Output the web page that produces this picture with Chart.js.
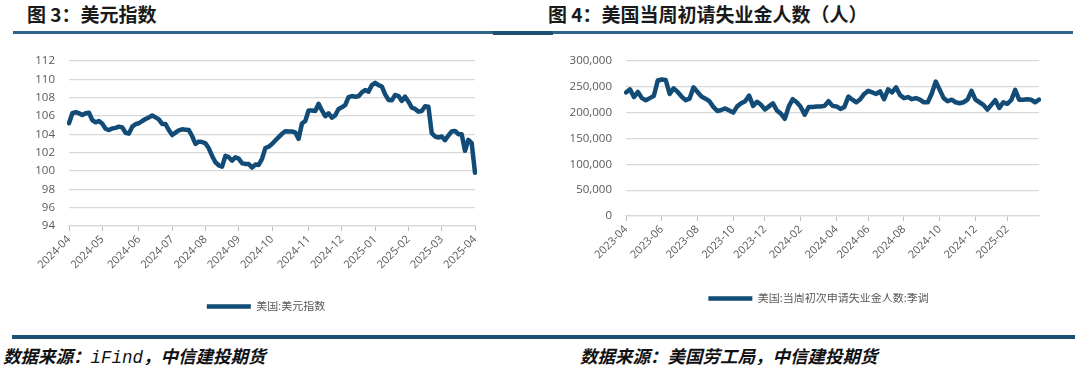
<!DOCTYPE html>
<html>
<head>
<meta charset="utf-8">
<script src="https://cdn.jsdelivr.net/npm/chart.js@4.4.1/dist/chart.umd.min.js"></script>
<style>
  body { margin: 0; background: #fff; }
  #page { position: relative; width: 1080px; height: 365px; overflow: hidden; background: #fff; }
  .title { position: absolute; top: 0; font: 700 19px "Noto Sans CJK SC", sans-serif; color: #1a1a1a; white-space: nowrap; }
  .source { position: absolute; top: 343px; font: italic 700 17.5px "Noto Sans CJK SC", sans-serif; color: #111; white-space: nowrap; }
  .source .mono { font-family: "Liberation Mono", "DejaVu Sans Mono", monospace; font-style: italic; font-weight: 400; }
  .rule { position: absolute; }
  canvas { position: absolute; top: 40px; }
</style>
</head>
<body>
<div id="page">
  <div class="title" style="left:27px">图 3：美元指数</div>
  <div class="title" style="left:548px">图 4：美国当周初请失业金人数（人）</div>
  <div class="rule" style="left:13px; top:31px; width:480px; height:3px; background:#2f6589"></div>
  <div class="rule" style="left:493px; top:31px; width:60px; height:4px; background:#1d4f73"></div>
  <div class="rule" style="left:553px; top:31px; width:520px; height:3px; background:#2f6589"></div>
  <div class="rule" style="left:12px; top:335px; width:1063px; height:4px; background:#1d4f73"></div>
  <canvas id="dxyChart" width="540" height="285" style="left:0"></canvas>
  <canvas id="claimsChart" width="540" height="285" style="left:540px"></canvas>
  <div class="source" style="left:3px">数据来源：<span class="mono">iFind</span>，中信建投期货</div>
  <div class="source" style="left:580px">数据来源：美国劳工局，中信建投期货</div>
</div>
<script>
// ---- data ----
// US dollar index, sampled every 3 days from 2024-04-01
const DXY_START = "2024-04-01";
const DXY_STEP_DAYS = 3;
const dxyValues = [
  105.2, 106.3, 106.4, 106.3, 106.1, 106.3, 106.35, 105.55, 105.3, 105.45,
  105.15, 104.6, 104.46, 104.64, 104.7, 104.83, 104.75, 104.17, 104.07, 104.83,
  105.1, 105.2, 105.45, 105.66, 105.84, 106.05, 105.84, 105.62, 105.12, 105.12,
  104.46, 103.92, 104.17, 104.42, 104.54, 104.5, 104.46, 103.81, 102.94, 103.2,
  103.16, 103.01, 102.47, 101.64, 100.95, 100.62, 100.48, 101.64, 101.5, 101.13,
  101.5, 101.35, 100.84, 100.77, 100.77, 100.37, 100.7, 100.66, 101.31, 102.5,
  102.65, 102.93, 103.32, 103.68, 104.05, 104.33, 104.3, 104.3, 104.2, 103.5,
  105.17, 105.45, 106.6, 106.6, 106.54, 107.33, 106.6, 105.97, 106.29, 105.82,
  106.07, 106.76, 106.94, 107.19, 108.06, 108.17, 108.1, 108.14, 108.57, 108.82,
  108.64, 109.36, 109.61, 109.36, 109.21, 108.35, 107.74, 107.7, 108.28, 108.17,
  107.63, 108.1, 107.55, 106.9, 106.76, 106.47, 106.54, 107.05, 107.01, 104.12,
  103.76, 103.65, 103.76, 103.36, 103.87, 104.3, 104.37, 104.01, 104.01, 102.2,
  103.4, 103.04, 99.8
];
const dxyName = "美国:美元指数";
const dxyTicks = [94, 112, 2];

// US initial jobless claims (SA), weekly from 2023-04-01
const CLAIMS_START = "2023-04-01";
const CLAIMS_STEP_DAYS = 7;
const claimsValues = [
  239000, 245000, 230000, 240000, 228000, 224000, 228000, 232000, 262000, 264000,
  263000, 236000, 247000, 240000, 231000, 224000, 227000, 249000, 240000, 231000,
  227000, 222000, 211000, 203000, 205000, 208000, 204000, 200000, 212000, 218000,
  222000, 233000, 213000, 221000, 215000, 206000, 212000, 218000, 204000, 198000,
  188000, 212000, 226000, 220000, 211000, 196000, 211000, 211000, 212000, 212000,
  213000, 222000, 213000, 212000, 207000, 211000, 231000, 225000, 220000, 226000,
  236000, 242000, 239000, 236000, 241000, 226000, 245000, 239000, 249000, 234000,
  228000, 230000, 226000, 228000, 225000, 220000, 220000, 237000, 260000, 244000,
  228000, 222000, 225000, 220000, 218000, 220000, 225000, 242000, 225000, 220000,
  215000, 206000, 215000, 224000, 209000, 220000, 217000, 224000, 244000, 225000,
  225000, 226000, 225000, 220000, 225000
];
const claimsName = "美国:当周初次申请失业金人数:季调";
const claimsTicks = [0, 300000, 50000];

// ---- helpers ----
function dateLabels(start, stepDays, n) {
  const t0 = Date.parse(start + "T00:00:00Z");
  return Array.from({ length: n }, (_, i) => new Date(t0 + i * stepDays * 864e5).toISOString().slice(0, 10));
}

const LINE_COLOR = "#114b76";
const GRID_COLOR = "#d9d9d9";
const TEXT_COLOR = "#595959";
const FONT = "'Open Sans', 'Noto Sans CJK SC', sans-serif";

// month tick: show "YYYY-MM" where the month changes (optionally only even months)
function monthTick(evenOnly) {
  return function (value, index) {
    const lab = this.getLabelForValue(value);
    const prev = index > 0 ? this.getLabelForValue(index - 1) : null;
    if (prev && prev.slice(0, 7) === lab.slice(0, 7)) return null;
    if (evenOnly && Number(lab.slice(5, 7)) % 2 !== 0) return null;
    return lab.slice(0, 7);
  };
}

// place the legend box where the reference has it
const legendShift = {
  id: "legendShift",
  afterLayout(chart, args, opts) {
    const lg = chart.legend;
    if (!lg) return;
    lg.left += opts.dx || 0; lg.right += opts.dx || 0;
    lg.top += opts.dy || 0; lg.bottom += opts.dy || 0;
  }
};

function makeChart(id, labels, values, name, yTicks, cfg) {
  return new Chart(document.getElementById(id), {
    type: "line",
    data: {
      labels,
      datasets: [{
        label: name,
        data: values,
        borderColor: LINE_COLOR,
        backgroundColor: LINE_COLOR,
        borderWidth: 4.5,
        pointRadius: 0,
        tension: 0,
        borderJoinStyle: "round",
        borderCapStyle: "round"
      }]
    },
    plugins: [legendShift],
    options: {
      responsive: false,
      animation: false,
      devicePixelRatio: 1,
      layout: { padding: cfg.padding },
      scales: {
        x: {
          type: "category",
          grid: {
            drawOnChartArea: false,
            drawTicks: true,
            tickLength: 5,
            color: c => (c.tick && c.tick.label ? "#bfbfbf" : "rgba(0,0,0,0)")
          },
          border: { color: GRID_COLOR, width: 1.3 },
          ticks: {
            autoSkip: false,
            minRotation: 45,
            maxRotation: 45,
            padding: 2,
            color: TEXT_COLOR,
            font: { size: 11, family: FONT },
            callback: monthTick(cfg.evenMonths)
          },
          afterFit: s => { s.height = cfg.xHeight; }
        },
        y: {
          min: yTicks[0],
          max: yTicks[1],
          ticks: {
            stepSize: yTicks[2],
            padding: 14,
            color: TEXT_COLOR,
            font: { size: 11.5, family: FONT },
            callback: v => v.toLocaleString("en-US")
          },
          grid: { color: GRID_COLOR, lineWidth: 1.3, drawTicks: false },
          border: { display: false },
          afterFit: s => { s.width = cfg.yWidth; }
        }
      },
      plugins: {
        legend: {
          position: "bottom",
          fullSize: false,
          labels: {
            usePointStyle: true,
            pointStyle: "line",
            pointStyleWidth: 44,
            boxHeight: 11,
            padding: 0,
            color: TEXT_COLOR,
            font: { size: 11, family: FONT }
          }
        },
        legendShift: cfg.legendShift,
        tooltip: { enabled: false }
      }
    }
  });
}

makeChart("dxyChart", dateLabels(DXY_START, DXY_STEP_DAYS, dxyValues.length), dxyValues, dxyName, dxyTicks, {
  padding: { left: 0, right: 65, top: 19, bottom: 3 },
  xHeight: 75, yWidth: 69, evenMonths: false, legendShift: { dx: -6, dy: 0 }
});

makeChart("claimsChart", dateLabels(CLAIMS_START, CLAIMS_STEP_DAYS, claimsValues.length), claimsValues, claimsName, claimsTicks, {
  padding: { left: 0, right: 41, top: 19, bottom: 11 },
  xHeight: 77, yWidth: 86, evenMonths: true, legendShift: { dx: -14, dy: 0 }
});
</script>
</body>
</html>
